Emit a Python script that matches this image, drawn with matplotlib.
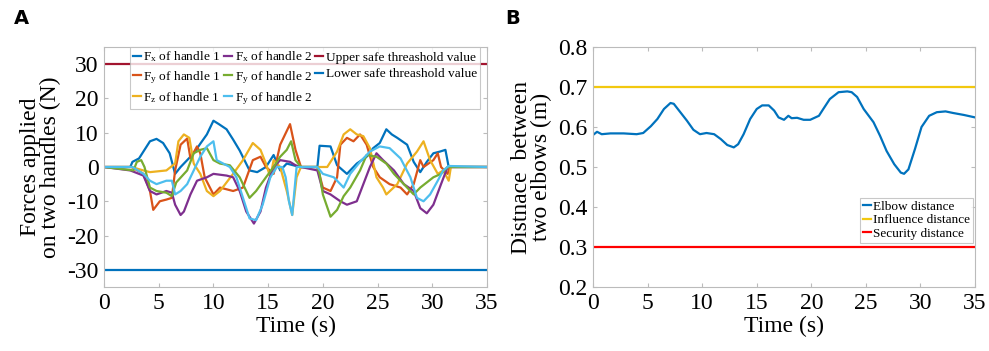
import matplotlib
matplotlib.use("Agg")
import matplotlib.pyplot as plt

# ---------------- Panel A data (time s, force N) ----------------
t_fx1 = [0, 2.4, 2.6, 3.2, 4.2, 4.8, 5.4, 6.0, 6.5, 7.0, 7.6, 8.2, 8.8, 9.4, 10.0, 10.5, 11.2, 11.8, 12.4, 13.3, 14.0, 14.8, 15.5, 16.1, 16.7, 17.9, 19.5, 19.7, 20.7, 21.3, 22.2, 23.1, 24.0, 24.6, 25.2, 25.8, 26.3, 26.8, 27.7, 28.3, 28.9, 29.5, 30.1, 30.7, 31.2, 31.5, 35]
v_fx1 = [0, 0, 1.5, 2.5, 7.5, 8.2, 7.0, 4.0, -2.0, 0.0, 2.0, 4.0, 6.8, 9.5, 13.5, 12.5, 11.0, 8.0, 4.8, -1.0, -1.5, 0.0, 3.5, -1.0, 1.0, 0.0, 0.0, 6.2, 6.0, 0.5, -2.0, 1.0, 3.0, 5.5, 7.0, 11.0, 9.5, 8.5, 6.5, 1.5, -1.5, 1.5, 4.0, 4.5, 5.0, 0.0, 0]

t_fy1 = [0, 2.5, 3.6, 4.2, 4.5, 5.1, 5.7, 6.2, 6.5, 7.0, 7.6, 7.9, 8.5, 8.8, 9.2, 10.0, 10.6, 11.8, 12.7, 13.6, 14.3, 14.8, 15.5, 16.1, 16.7, 17.0, 17.5, 18.0, 19.5, 20.0, 20.7, 21.3, 21.6, 22.2, 22.8, 23.4, 24.0, 24.6, 25.2, 26.1, 27.1, 27.7, 28.3, 28.9, 29.2, 30.1, 30.5, 30.8, 31.4, 31.6, 35]
v_fy1 = [0, 0, -2.0, -7.0, -12.5, -10.0, -9.5, -9.0, -1.0, 6.5, 8.3, 2.5, 6.0, 4.0, -3.0, -8.0, -6.0, -7.0, -6.0, 2.0, 3.0, 0.0, -2.0, 6.5, 10.5, 12.5, 5.0, 0.0, 0.0, -6.0, -7.0, -3.0, 6.5, 8.5, 7.5, 9.5, 6.5, 0.0, -3.0, -5.0, -6.0, -8.0, -5.0, 2.0, 0.0, 2.0, 4.0, 0.0, -2.0, 0.0, 0]

t_fz1 = [0, 2.5, 3.6, 4.2, 5.7, 6.5, 6.8, 7.3, 7.8, 8.2, 8.8, 9.4, 10.0, 10.6, 11.8, 12.7, 13.6, 14.3, 14.8, 15.2, 15.5, 16.1, 16.7, 17.2, 17.6, 18.0, 19.5, 20.4, 21.3, 21.9, 22.5, 23.1, 23.7, 24.3, 24.9, 25.5, 25.8, 26.8, 27.7, 28.6, 29.2, 29.8, 30.5, 31.0, 31.5, 31.7, 35]
v_fz1 = [0, 0, -1.0, -1.5, -1.0, 1.0, 7.5, 9.5, 8.5, 1.0, -2.0, -7.0, -8.5, -7.0, -2.0, 2.0, 7.0, 5.0, 1.0, -3.0, 2.0, 0.0, -7.0, -14.0, -3.0, 0.0, 0.0, 0.0, 4.5, 9.5, 11.0, 9.5, 9.0, 5.5, -3.0, -6.0, -8.0, -5.0, 1.0, 4.5, 7.5, 2.0, -2.0, -1.0, -4.0, 0.0, 0]

t_fx2 = [0, 2.4, 3.6, 4.2, 4.8, 5.7, 6.2, 6.5, 7.0, 7.3, 7.9, 8.5, 9.4, 10.0, 11.2, 11.8, 12.4, 13.0, 13.7, 14.3, 14.8, 15.5, 16.1, 17.0, 17.5, 18.0, 19.5, 20.0, 20.7, 21.6, 22.2, 23.1, 23.7, 24.3, 24.9, 25.5, 26.5, 27.4, 28.3, 28.9, 29.5, 30.1, 30.8, 31.4, 35]
v_fx2 = [0, -1.0, -2.5, -7.0, -8.0, -7.0, -7.5, -11.0, -14.0, -13.0, -8.0, -4.0, -3.0, -2.0, -2.5, -3.0, -7.0, -13.0, -16.5, -13.0, -6.0, 0.0, 2.0, 1.5, 0.5, 0.0, -1.0, -7.0, -8.0, -10.0, -11.0, -10.0, -5.0, 0.0, 4.0, 2.0, -1.0, -5.0, -7.0, -12.0, -13.5, -11.0, -5.0, 0.0, 0]

t_fy2 = [0, 2.7, 3.0, 3.4, 3.7, 4.2, 4.8, 5.7, 6.2, 6.6, 7.6, 8.2, 8.8, 9.4, 10.0, 10.6, 11.5, 12.4, 13.3, 13.9, 14.8, 15.5, 16.1, 16.7, 17.1, 17.5, 18.0, 19.5, 19.7, 20.0, 20.7, 21.3, 21.9, 22.5, 23.4, 24.0, 24.9, 25.8, 26.5, 27.4, 28.3, 28.9, 29.5, 30.1, 30.8, 31.4, 35]
v_fy2 = [0, -1.0, 1.5, 2.0, 0.0, -6.0, -7.0, -7.5, -8.5, -4.5, -1.0, 4.0, 5.0, 5.5, 2.0, 1.0, 0.5, -3.0, -9.0, -7.0, -3.0, 0.0, 3.0, 5.0, 7.5, 2.0, 0.0, 0.0, -2.0, -8.0, -14.5, -12.5, -8.5, -6.0, -1.0, 3.5, 3.0, 1.0, -2.0, -5.0, -8.0, -6.0, -4.5, -3.0, -2.0, 0.0, 0]

t_fy2b = [0, 2.6, 3.6, 4.2, 4.8, 5.7, 6.2, 6.5, 7.0, 7.6, 8.2, 8.8, 9.4, 10.0, 10.3, 10.9, 11.5, 12.1, 12.7, 13.3, 13.9, 14.5, 15.2, 15.8, 16.3, 16.6, 16.9, 17.2, 17.6, 18.0, 19.5, 20.0, 21.0, 21.9, 22.5, 23.4, 24.3, 25.2, 26.1, 27.1, 28.0, 28.6, 29.2, 29.8, 30.5, 31.0, 31.5, 35]
v_fy2b = [0, 0, -2.0, -4.0, -5.0, -4.0, -4.0, -8.0, -7.0, -5.0, -1.0, 3.0, 6.0, 7.5, 2.0, 1.0, 0.0, -3.0, -9.0, -15.0, -15.5, -11.0, -3.0, 0.0, 0.0, -3.0, -10.0, -14.0, 0.0, 0.0, 0.0, -2.0, -3.0, -6.0, -2.0, 1.5, 4.5, 6.0, 5.5, 2.5, -3.0, -9.0, -10.0, -8.0, -4.0, -1.0, 0.3, 0]

upper_threshold = 30
lower_threshold = -30

# ---------------- Panel B data ----------------
t_elbow = [0, 0.37, 0.8, 1.6, 2.8, 4.0, 4.6, 5.3, 5.9, 6.5, 7.1, 7.4, 8.0, 8.6, 9.2, 9.8, 10.4, 11.1, 11.7, 12.3, 12.9, 13.3, 13.8, 14.4, 15.0, 15.5, 16.1, 16.6, 17.0, 17.5, 17.9, 18.2, 18.7, 19.3, 19.9, 20.7, 21.1, 21.7, 22.5, 23.3, 23.7, 24.2, 24.8, 25.7, 26.3, 26.9, 27.6, 28.2, 28.5, 28.9, 29.5, 30.1, 30.8, 31.5, 32.3, 33.0, 34.0, 35.0]
v_elbow = [0.58, 0.588, 0.582, 0.584, 0.584, 0.582, 0.585, 0.602, 0.62, 0.645, 0.66, 0.658, 0.637, 0.616, 0.593, 0.582, 0.585, 0.582, 0.57, 0.555, 0.549, 0.557, 0.582, 0.62, 0.645, 0.654, 0.654, 0.641, 0.624, 0.618, 0.628, 0.622, 0.623, 0.618, 0.618, 0.628, 0.645, 0.67, 0.687, 0.689, 0.687, 0.675, 0.645, 0.612, 0.578, 0.54, 0.507, 0.486, 0.483, 0.494, 0.545, 0.6, 0.628, 0.637, 0.639, 0.635, 0.63, 0.624]
influence_distance = 0.7
security_distance = 0.3

xticks = [0, 5, 10, 15, 20, 25, 30, 35]
yticks_a = [-30, -20, -10, 0, 10, 20, 30]
yticks_b = [0.2, 0.3, 0.4, 0.5, 0.6, 0.7, 0.8]

plt.rcParams['font.family'] = ['Liberation Serif', 'DejaVu Serif']
plt.rcParams['mathtext.fontset'] = 'custom'
plt.rcParams['mathtext.rm'] = 'Liberation Serif'
plt.rcParams['mathtext.it'] = 'Liberation Serif'
plt.rcParams['axes.unicode_minus'] = False

fig = plt.figure(figsize=(9.89, 3.51), dpi=100)
W, H = 989, 351
axA = fig.add_axes([104 / W, 1 - 287 / H, (487 - 104) / W, (287 - 47) / H])
axB = fig.add_axes([593 / W, 1 - 287 / H, (975 - 593) / W, (287 - 47) / H])

lw = 1.6
axA.plot(t_fx1, v_fx1, color='#0072BD', lw=lw, label=r'$\mathregular{F_x}$ of handle 1')
axA.plot(t_fy1, v_fy1, color='#D95319', lw=lw, label=r'$\mathregular{F_y}$ of handle 1')
axA.plot(t_fz1, v_fz1, color='#EDB120', lw=lw, label=r'$\mathregular{F_z}$ of handle 1')
axA.plot(t_fx2, v_fx2, color='#7E2F8E', lw=lw, label=r'$\mathregular{F_x}$ of handle 2')
axA.plot(t_fy2, v_fy2, color='#77AC30', lw=lw, label=r'$\mathregular{F_y}$ of handle 2')
axA.plot(t_fy2b, v_fy2b, color='#4DBEEE', lw=lw, label=r'$\mathregular{F_y}$ of handle 2')
axA.axhline(upper_threshold, color='#A2142F', lw=lw, label='Upper safe threashold value')
axA.axhline(lower_threshold, color='#0072BD', lw=lw, label='Lower safe threashold value')

axA.set_xlim(0, 35)
axA.set_ylim(-35, 35)
axA.set_xticks(xticks)
axA.set_yticks(yticks_a)
axA.set_xlabel('Time (s)', fontsize=17, labelpad=2)
axA.set_ylabel('Forces applied\non two handles (N)', fontsize=17, labelpad=4, linespacing=0.95)
leg = axA.legend(ncol=3, loc='upper left', bbox_to_anchor=(0.068, 1.0), fontsize=9.6,
                 frameon=True, fancybox=False, edgecolor='#bbbbbb', handlelength=0.6,
                 handletextpad=0.2, columnspacing=0.25, labelspacing=0.33, borderpad=0.2,
                 borderaxespad=0.0)
leg.get_frame().set_linewidth(0.8)

axB.plot(t_elbow, v_elbow, color='#0072BD', lw=lw, label='Elbow distance')
axB.axhline(influence_distance, color='#F2C80F', lw=lw, label='Influence distance')
axB.axhline(security_distance, color='#FF0000', lw=lw, label='Security distance')
axB.set_xlim(0, 35)
axB.set_ylim(0.2, 0.8)
axB.set_xticks(xticks)
axB.set_yticks(yticks_b)
axB.set_yticklabels(['0.2', '0.3', '0.4', '0.5', '0.6', '0.7', '0.8'])
axB.set_xlabel('Time (s)', fontsize=17, labelpad=2)
axB.set_ylabel('Distnace  between\ntwo elbows (m)', fontsize=17, labelpad=4, linespacing=0.95)
legB = axB.legend(loc='lower right', bbox_to_anchor=(0.995, 0.185), fontsize=9.5,
                  frameon=True, fancybox=False, edgecolor='#bbbbbb', handlelength=0.6,
                  handletextpad=0.2, labelspacing=0.1, borderpad=0.2, borderaxespad=0.0)
legB.get_frame().set_linewidth(0.8)

for ax in (axA, axB):
    ax.tick_params(direction='in', top=True, right=True, labelsize=17, length=3,
                   color='#bbbbbb', pad=4)
    for s in ax.spines.values():
        s.set_color('#bbbbbb')
        s.set_linewidth(0.8)

fig.text(14 / W, 1 - 18 / H, 'A', fontsize=14, fontweight='bold', family='DejaVu Sans', va='center', ha='left')
fig.text(505 / W, 1 - 18 / H, 'B', fontsize=14, fontweight='bold', family='DejaVu Sans', va='center', ha='left')

fig.savefig('out.png', dpi=100)
